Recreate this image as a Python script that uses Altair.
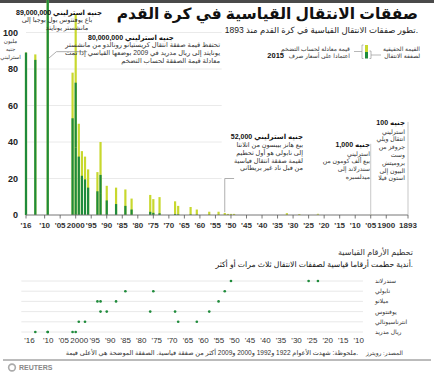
import altair as alt
import pandas as pd

# ------------------------------------------------------------------ data
rec_year = [2016, 2013, 2009, 2009, 2001, 2000, 2000, 1999, 1998, 1997, 1996, 1993, 1992, 1992,
            1990, 1987, 1984, 1982, 1976, 1975, 1973, 1968, 1967, 1963, 1961, 1957, 1954,
            1952, 1951, 1950, 1949, 1932, 1928, 1922, 1922, 1905, 1893]
rec_actual = [89, 85, 80, 56, 53, 37, 35.5, 32, 21.5, 19.5, 15, 13, 12, 10,
              8, 6, 5, 3, 1.75, 1.2, 0.92, 0.5, 0.3, 0.25, 0.15, 0.093, 0.072,
              0.052, 0.035, 0.03, 0.025, 0.023, 0.011, 0.0055, 0.005, 0.001, 0.0001]
rec_adjusted = [89, 88, 96, 67, 78, 56, 54, 50, 35, 32, 25, 23.5, 22, 18,
                16, 15, 14, 9, 11, 8.7, 9.8, 7.5, 5, 4.4, 3, 1.8, 1.8,
                1.1, 0.6, 0.6, 0.6, 1.0, 0.5, 0.35, 0.3, 0.1, 0.01]

club_names = ["سندرلاند", "نابولي", "ميلانو", "يوفنتوس", "انترناسيونالي", "ريال مدريد"]
club_sunderland = [1950, 1925, 1922]
club_napoli = [1984, 1975, 1952]
club_milan = [1993, 1992, 1987, 1954]
club_juventus = [1992, 1990, 1976, 1968, 1957]
club_inter = [1999, 1997, 1967, 1961]
club_real = [2013, 2009, 2009, 2001, 2000]

top_tick_years = [2016, 2010, 2005, 2000, 1995, 1990, 1985, 1980, 1975, 1970, 1965, 1960, 1955,
                  1950, 1945, 1940, 1935, 1930, 1925, 1920, 1915, 1910, 1905, 1900, 1893]
top_tick_labels = ["'16", "'10", "'05", "2000", "'95", "'90", "'85", "'80", "'75", "'70", "'65",
                   "'60", "'55", "'50", "'45", "'40", "'35", "'30", "'25", "'20", "'15", "'10",
                   "'05", "1900", "1893"]
bot_tick_years = top_tick_years[:22]
bot_tick_labels = top_tick_labels[:22]
y_ticks = [0, 20, 40, 60, 80, 100]
y_tick_labels = ["0", "20", "40", "60", "80", "100"]
y_grid = [20, 40, 60, 80, 100]

title = "صفقات الانتقال القياسية في كرة القدم"
subtitle = "تطور صفقات الانتقال القياسية في كرة القدم منذ 1893."
unit_lines = ["مليون", "جنيه", "استرليني"]
ann89_head = "89,000,000 جنيه استرليني"
ann89_body = ["باع يوفنتوس بول بوجبا إلى", "مانشستر يونايتد"]
ann80_head = "80,000,000 جنيه استرليني"
ann80_body = ["تحتفظ قيمة صفقة انتقال كريستيانو رونالدو من مانشستر",
              "يونايتد إلى ريال مدريد في 2009 بوضعها القياسي إذا تمت",
              "معادلة قيمة الصفقة لحساب التضخم"]
ann52_head = "52,000 جنيه استرليني"
ann52_body = ["بيع هانز بيبسون من اتلانتا", "إلى نابولي هو أول تحطيم",
              "لقيمة صفقة انتقال قياسية", "من قبل ناد غير بريطاني"]
ann1k_head = "1,000 جنيه"
ann1k_body = ["استرليني", "بيع ألف كومون من", "سندرلاند إلى", "ميدلسبره"]
ann100_head = "100 جنيه"
ann100_body = ["استرليني", "انتقال ويلي", "جروفز من", "وست", "برومیتش", "البيون إلى", "استون فيلا"]
legend_right = ["القيمة الحقيقية", "لصفقة الانتقال"]
legend_left = ["قيمة معادلة لحساب التضخم", "اعتمادا على أسعار صرف"]
legend_year = "2015"
section_title = "تحطيم الأرقام القياسية"
section_sub = "أندية حطمت أرقاما قياسية لصفقات الانتقال ثلاث مرات أو أكثر."
note = "ملحوظة: شهدت الأعوام 1922 و1992 و2000 و2009 أكثر من صفقة قياسية. الصفقة الموضحة هي الأعلى قيمة."
source = "المصدر: رويترز"
brand = "REUTERS"

# ------------------------------------------------------------------ style
YEL = "#c8d82e"
GRN = "#1f8b3b"
FONT = "Liberation Sans, DejaVu Sans"

XS = alt.Scale(domain=[2016, 1893], range=[21, 413], nice=False, zero=False)
YS = alt.Scale(domain=[0, 100], range=[215, 32.5], nice=False)
YB = alt.Scale(type="point", domain=club_names, range=[281, 332], padding=0)

one = pd.DataFrame({"k": [0]})


def txt(t, x, y, size=7, bold=False, align="right", color="#333", font=FONT):
    return alt.Chart(one).mark_text(
        text=t, align=align, baseline="middle", fontSize=size,
        fontWeight="bold" if bold else "normal", font=font, color=color
    ).encode(x=alt.value(x), y=alt.value(y))


def block(lines, x, y0, dy, **kw):
    return [txt(t, x, y0 + i * dy, **kw) for i, t in enumerate(lines)]


rec = pd.DataFrame({"year": rec_year, "actual": rec_actual, "adjusted": rec_adjusted})

layers = []
# top dark band
layers.append(alt.Chart(one).mark_rect(color="#4a4a4a").encode(
    x=alt.value(0), x2=alt.value(434), y=alt.value(0), y2=alt.value(3)))

# gridlines
layers.append(alt.Chart(pd.DataFrame({"g": y_grid})).mark_rule(color="#e4e4e4", strokeWidth=0.8).encode(
    x=alt.XDatum(2016, scale=XS, axis=None), x2=alt.X2Datum(1953),
    y=alt.Y("g:Q", scale=YS, axis=None)))

# bars
layers.append(alt.Chart(rec).mark_bar(size=2.2, color=YEL).encode(
    x=alt.X("year:Q", scale=XS, axis=None), y=alt.Y("adjusted:Q", scale=YS, axis=None)))
layers.append(alt.Chart(rec).mark_bar(size=2.2, color=GRN).encode(
    x=alt.X("year:Q", scale=XS, axis=None), y=alt.Y("actual:Q", scale=YS, axis=None)))

# axis line + ticks + labels
layers.append(alt.Chart(one).mark_rule(color="#777", strokeWidth=1).encode(
    x=alt.XDatum(2016, scale=XS, axis=None), x2=alt.X2Datum(1893),
    y=alt.YDatum(0, scale=YS, axis=None)))
ticks_df = pd.DataFrame({"year": top_tick_years, "lab": top_tick_labels})
layers.append(alt.Chart(ticks_df).mark_rule(color="#555", strokeWidth=0.8).encode(
    x=alt.X("year:Q", scale=XS, axis=None), y=alt.value(215), y2=alt.value(218.5)))
layers.append(alt.Chart(ticks_df).mark_text(fontSize=8, fontWeight="bold", font=FONT, color="#333",
                                             baseline="middle").encode(
    x=alt.X("year:Q", scale=XS, axis=None), y=alt.value(225.5), text="lab:N"))

# y labels
ylab_df = pd.DataFrame({"v": y_ticks, "lab": y_tick_labels})
layers.append(alt.Chart(ylab_df).mark_text(fontSize=9, fontWeight="bold", font=FONT, color="#222",
                                            align="right", baseline="middle").encode(
    x=alt.value(18), y=alt.Y("v:Q", scale=YS, axis=None), text="lab:N"))
layers += block(unit_lines, 10.5, 41, 8, size=5.5, align="center", color="#333")

# leaders
lead80 = pd.DataFrame({"year": [2008.6, 2006.2, 1996.3], "v": [86, 89.5, 89.5]})
layers.append(alt.Chart(lead80).mark_line(color="#9a9a9a", strokeWidth=0.8).encode(
    x=alt.X("year:Q", scale=XS, axis=None), y=alt.Y("v:Q", scale=YS, axis=None)))
layers.append(alt.Chart(one).mark_rule(color="#9a9a9a", strokeWidth=0.8).encode(
    x=alt.XDatum(1952, scale=XS, axis=None), y=alt.YDatum(20, scale=YS, axis=None), y2=alt.Y2Datum(1.5)))
layers.append(alt.Chart(one).mark_rule(color="#9a9a9a", strokeWidth=0.8).encode(
    x=alt.XDatum(1952, scale=XS, axis=None), x2=alt.X2Datum(1949), y=alt.YDatum(20, scale=YS, axis=None)))
layers.append(alt.Chart(one).mark_rule(color="#b0b0b0", strokeWidth=0.7).encode(
    x=alt.XDatum(1893, scale=XS, axis=None), y=alt.YDatum(51, scale=YS, axis=None), y2=alt.Y2Datum(0)))
layers.append(alt.Chart(one).mark_rule(color="#b0b0b0", strokeWidth=0.7).encode(
    x=alt.XDatum(1905, scale=XS, axis=None), y=alt.YDatum(39, scale=YS, axis=None), y2=alt.Y2Datum(0)))

# titles
layers.append(txt(title, 418, 14, size=15.5, bold=True, color="#111"))
layers.append(txt(subtitle, 418, 30, size=8.5, color="#222"))

# annotations
layers.append(txt(ann89_head, 59, 12.5, size=7, bold=True, align="center", color="#111"))
layers.append(txt(ann89_body[0], 57, 20, size=6.5, align="center"))
layers.append(txt(ann89_body[1], 67, 27.5, size=6.5, align="center"))

layers.append(txt(ann80_head, 88, 37.5, size=7, bold=True, align="left", color="#111"))
layers += block(ann80_body, 220, 45, 8.2, size=6.7)

layers.append(txt(ann52_head, 303, 137.3, size=7, bold=True, color="#111"))
layers += block(ann52_body, 303, 145, 7.8, size=6.5)

layers.append(txt(ann1k_head, 370, 145, size=7, bold=True, color="#111"))
layers += block(ann1k_body, 370, 153.5, 7.7, size=6.2)

layers.append(txt(ann100_head, 405, 123.3, size=7, bold=True, color="#111"))
layers += block(ann100_body, 405, 131.5, 7.8, size=6.2)

# legend
layers.append(alt.Chart(one).mark_rect(color=YEL).encode(
    x=alt.value(365), x2=alt.value(368), y=alt.value(45), y2=alt.value(52)))
layers.append(alt.Chart(one).mark_rect(color=GRN).encode(
    x=alt.value(365), x2=alt.value(368), y=alt.value(52), y2=alt.value(58.5)))
for (xa, xb, ya, yb) in [(362, 362, 45, 58.5), (362, 363.5, 45, 45), (362, 363.5, 58.5, 58.5),
                         (354, 362, 51.5, 51.5),
                         (371, 371, 51, 58.5), (369.5, 371, 51, 51), (369.5, 371, 58.5, 58.5),
                         (371, 381, 55, 55)]:
    layers.append(alt.Chart(one).mark_rule(color="#999", strokeWidth=0.7).encode(
        x=alt.value(xa), x2=alt.value(xb), y=alt.value(ya), y2=alt.value(yb)))
layers += block(legend_right, 420, 49, 7, size=6)
layers += block(legend_left, 350, 49, 7, size=6)
layers.append(txt(legend_year, 284, 56, size=7.5, bold=True, color="#111"))

# bottom section
layers.append(txt(section_title, 413, 253, size=8, color="#333"))
layers.append(txt(section_sub, 413, 265, size=7.7, color="#111"))

rows = pd.DataFrame({"club": club_names})
layers.append(alt.Chart(rows).mark_rule(color="#e2e2e2", strokeWidth=0.8).encode(
    x=alt.XDatum(2017.5, scale=XS, axis=None), x2=alt.X2Datum(1907.5),
    y=alt.Y("club:N", scale=YB, axis=None)))
dots = pd.DataFrame({
    "club": [club_names[0]] * len(club_sunderland) + [club_names[1]] * len(club_napoli)
    + [club_names[2]] * len(club_milan) + [club_names[3]] * len(club_juventus)
    + [club_names[4]] * len(club_inter) + [club_names[5]] * len(club_real),
    "year": club_sunderland + club_napoli + club_milan + club_juventus + club_inter + club_real,
})
layers.append(alt.Chart(dots).mark_circle(size=7, color=GRN, opacity=1).encode(
    x=alt.X("year:Q", scale=XS, axis=None), y=alt.Y("club:N", scale=YB, axis=None)))
layers.append(alt.Chart(rows).mark_text(fontSize=6, font=FONT, color="#333", align="left",
                                         baseline="middle").encode(
    x=alt.value(375), y=alt.Y("club:N", scale=YB, axis=None), text="club:N"))
bt = pd.DataFrame({"year": bot_tick_years, "lab": bot_tick_labels})
layers.append(alt.Chart(bt).mark_text(fontSize=8, font=FONT, color="#333", baseline="middle",
                                       dx=3.5).encode(
    x=alt.X("year:Q", scale=XS, axis=None), y=alt.value(340.5), text="lab:N"))

# footer
layers.append(txt(note, 358, 353, size=6.5, color="#333"))
layers.append(txt(source, 403, 353, size=6, color="#333"))
layers.append(alt.Chart(one).mark_rule(color="#555", strokeWidth=0.8).encode(
    x=alt.value(3), x2=alt.value(431), y=alt.value(360)))
layers.append(alt.Chart(one).mark_point(shape="circle", filled=False, size=45, color="#888",
                                         strokeWidth=1.6).encode(x=alt.value(12), y=alt.value(367.5)))
layers.append(txt(brand, 19, 367.5, size=7, bold=True, align="left", color="#888"))

chart = alt.layer(*layers).properties(
    width=434, height=378, padding=0, autosize=alt.AutoSizeParams(type="none")
).resolve_scale(y="independent").configure_view(strokeWidth=0)

chart.save("out.html", embed_options={"renderer": "svg", "actions": False})
